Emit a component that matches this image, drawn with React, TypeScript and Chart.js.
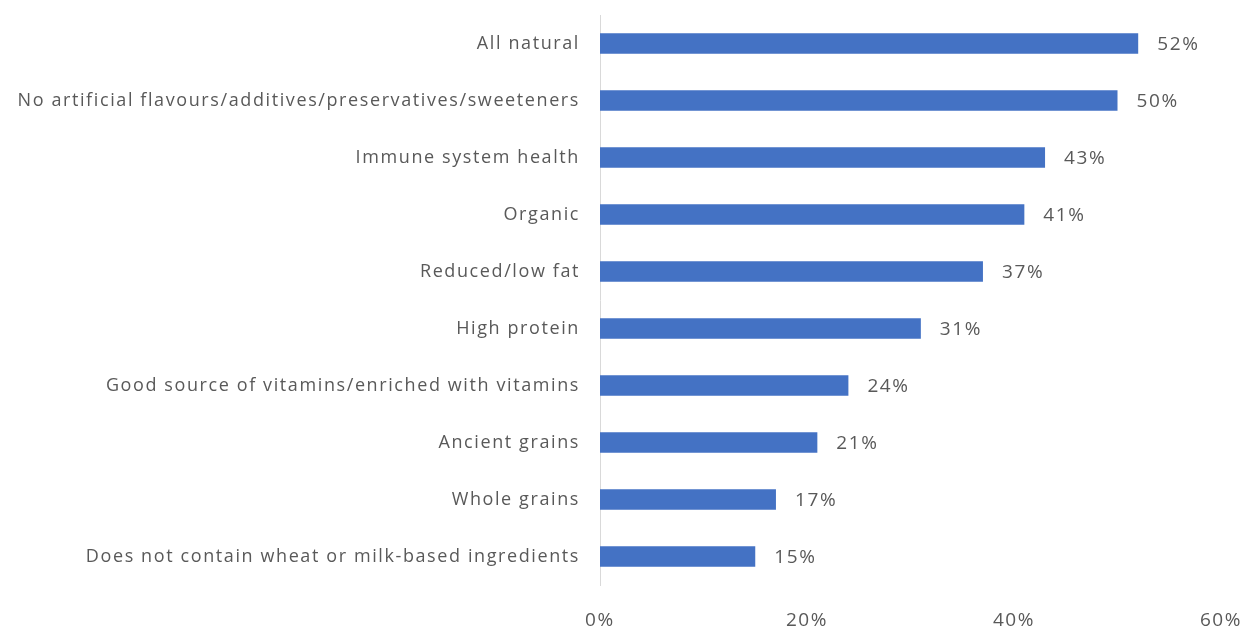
import React, { useEffect, useRef } from "react";
import { Chart, registerables } from "chart.js";

Chart.register(...registerables);

const categories = [
  "All natural",
  "No artificial flavours/additives/preservatives/sweeteners",
  "Immune system health",
  "Organic",
  "Reduced/low fat",
  "High protein",
  "Good source of vitamins/enriched with vitamins",
  "Ancient grains",
  "Whole grains",
  "Does not contain wheat or milk-based ingredients",
];
const values = [52, 50, 43, 41, 37, 31, 24, 21, 17, 15];
const xTicks = [0, 20, 40, 60];

const FONT = "'Open Sans', sans-serif";
const TEXT = "#595959";
const SPACING = "1.6px";

const spacingPlugin = {
  id: "spacing",
  beforeDraw(chart: any) {
    (chart.ctx as any).letterSpacing = SPACING;
  },
  afterDraw(chart: any) {
    (chart.ctx as any).letterSpacing = "0px";
  },
};

const valueLabels = {
  id: "valueLabels",
  afterDatasetsDraw(chart: any) {
    const ctx = chart.ctx;
    const meta = chart.getDatasetMeta(0);
    ctx.save();
    ctx.font = `19px ${FONT}`;
    ctx.fillStyle = TEXT;
    ctx.textAlign = "left";
    ctx.textBaseline = "middle";
    meta.data.forEach((bar: any, i: number) => {
      ctx.fillText(`${values[i]}%`, bar.x + 19, bar.y + 1);
    });
    ctx.restore();
  },
};

export default function App() {
  const ref = useRef<HTMLCanvasElement>(null);
  useEffect(() => {
    if (!ref.current) return;
    const chart = new Chart(ref.current, {
      type: "bar",
      data: {
        labels: categories,
        datasets: [
          {
            data: values,
            backgroundColor: "#4472C4",
            categoryPercentage: 1,
            barPercentage: 0.36,
          },
        ],
      },
      options: {
        indexAxis: "y",
        animation: false,
        responsive: false,
        maintainAspectRatio: false,
        layout: { padding: { top: 15, right: 34, bottom: 0, left: 0 } },
        plugins: { legend: { display: false }, tooltip: { enabled: false } },
        scales: {
          x: {
            min: 0,
            max: 60,
            afterBuildTicks(axis: any) {
              axis.ticks = xTicks.map((v) => ({ value: v }));
            },
            afterFit(axis: any) {
              axis.height = 45;
              axis.paddingLeft = 0;
              axis.paddingRight = 0;
              axis.paddingTop = 0;
              axis.paddingBottom = 0;
            },
            grid: { display: false, drawTicks: false },
            border: { display: false },
            ticks: {
              padding: 24,
              color: TEXT,
              font: { family: FONT, size: 19 },
              callback: (v: any) => `${v}%`,
            },
          },
          y: {
            grid: { display: false, drawTicks: false },
            border: { display: true, color: "#d9d9d9", width: 1 },
            afterFit(axis: any) {
              axis.width = 600;
              axis.paddingTop = 0;
              axis.paddingBottom = 0;
              axis.paddingLeft = 0;
              axis.paddingRight = 0;
            },
            ticks: {
              padding: 20,
              color: TEXT,
              font: { family: FONT, size: 18 },
            },
          },
        },
      },
      plugins: [spacingPlugin, valueLabels],
    });
    return () => chart.destroy();
  }, []);
  return (
    <div style={{ position: "fixed", left: 0, top: 0, width: 1255, height: 630, background: "#fff" }}>
      <canvas ref={ref} width={1255} height={630} style={{ width: 1255, height: 630 }} />
    </div>
  );
}
